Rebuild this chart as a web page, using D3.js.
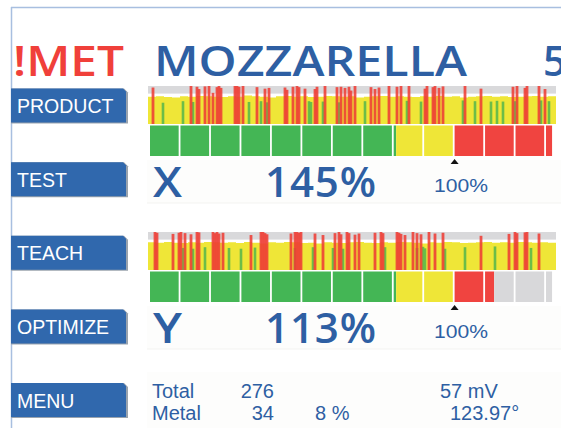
<!DOCTYPE html>
<html><head><meta charset="utf-8">
<script src="https://cdn.jsdelivr.net/npm/d3@7"></script>
<style>body{margin:0;background:#fff}svg{display:block}</style>
</head><body>
<script>
// ---------------- data ----------------
const buttonLabels = ["PRODUCT", "TEST", "TEACH", "OPTIMIZE", "MENU"];
const titleParts = ["!MET", "MOZZARELLA", "5"];
const rowLetters = ["X", "Y"];
const rowPercents = [145, 113];
const refPercent = 100;
const meterZones = [0, 80.8, 100];          // green from 0, yellow from 80.8, red from 100
const meterMax = 132;
const meterStep = 10;

// spike trace 1 (values 0-100, one yellow level per 4 samples)
const yellow1 = [72,73,71,70,73,72,74,73,72,71,73,72,75,73,72,70,73,74,72,73,71,72,74,73,72,73,70,72,73,74,72,73,72,71,73,72,74,72,73,70,72,73,74,72,73,71,72,73,74,72,73];
const red1 = [[2,96],[21,100],[24,98],[25,92],[28,99],[30,100],[32,82],[34,97],[35,100],[36,95],[43,100],[44,100],[45,98],[47,100],[54,97],[58,93],[60,95],[68,96],[69,90],[72,98],[74,100],[75,97],[78,93],[83,92],[84,98],[88,100],[94,97],[96,98],[98,95],[100,98],[101,88],[103,100],[111,97],[113,92],[115,96],[120,100],[124,98],[126,100],[130,100],[138,93],[139,100],[142,97],[143,100],[145,95],[147,99],[158,100],[166,93],[182,98],[184,100],[188,95],[189,100],[195,100],[198,92]];
const green1 = [[7,56],[17,60],[22,58],[50,58],[56,60],[59,57],[80,60],[81,58],[87,59],[95,57],[108,60],[129,61],[136,59],[157,62],[163,60],[171,59],[174,61],[177,59],[183,60],[196,62],[200,60]];

// spike trace 2
const yellow2 = [73,72,74,72,71,73,72,74,73,72,73,71,74,72,70,73,72,74,73,71,72,70,73,72,71,73,74,72,71,73,72,74,73,72,70,73,72,74,73,71,72,73,74,72,73,72,74,73,72,73,72];
const red2 = [[3,100],[4,98],[12,95],[15,98],[16,100],[18,97],[21,94],[24,100],[25,99],[32,100],[33,97],[34,100],[35,96],[37,98],[51,92],[56,100],[57,100],[58,97],[59,94],[71,96],[73,100],[74,100],[75,98],[76,100],[83,96],[87,92],[93,97],[95,100],[96,94],[99,100],[100,97],[103,93],[105,96],[113,98],[116,100],[117,97],[124,100],[125,98],[126,95],[128,92],[132,100],[134,97],[136,94],[140,100],[143,96],[147,98],[166,90],[180,95],[183,100],[184,97],[188,99],[189,100],[195,96]];
const green2 = [[17,58],[22,56],[28,60],[40,58],[46,56],[53,59],[73,58],[82,60],[92,58],[97,56],[118,60],[134,58],[137,61],[138,57],[148,56],[158,60],[173,62],[191,58]];

const statLabels = ["Total", "Metal"];
const statCounts = [276, 34];
const metalShare = "8 %";
const signalText = "57 mV";
const phaseText = "123.97°";

// ---------------- drawing ----------------
const W = 561, H = 428;
const blue = "#2e5fa3", btnBlue = "#3068ad", red = "#f0403a";
const svg = d3.select("body").append("svg").attr("width", W).attr("height", H);

// frame
svg.append("line").attr("x1", 11.5).attr("x2", 11.5).attr("y1", 7).attr("y2", H).attr("stroke", "#a8bfe0").attr("stroke-width", 1.5);
svg.append("line").attr("x1", 11).attr("x2", W).attr("y1", 7.5).attr("y2", 7.5).attr("stroke", "#a8bfe0").attr("stroke-width", 1.5);

// faint panels
[[160, 43], [306, 43], [372, 56]].forEach(([y, h]) => {
  svg.append("rect").attr("x", 147).attr("y", y).attr("width", W - 147).attr("height", h).attr("fill", "#fdfdfc");
});
[203, 349].forEach(y => svg.append("line").attr("x1", 147).attr("x2", W).attr("y1", y).attr("y2", y).attr("stroke", "#f3f3f1"));

// title
const titleFont = "'Open Sans', 'DejaVu Sans', sans-serif";
svg.append("text").attr("x", 13).attr("y", 76).attr("fill", red).attr("font-family", titleFont)
  .attr("font-weight", 600).attr("font-size", 41).attr("textLength", 111).attr("lengthAdjust", "spacingAndGlyphs").text(titleParts[0]);
svg.append("text").attr("x", 154).attr("y", 76).attr("fill", blue).attr("font-family", titleFont)
  .attr("font-weight", 600).attr("font-size", 41).attr("textLength", 313).attr("lengthAdjust", "spacingAndGlyphs").text(titleParts[1]);
svg.append("text").attr("x", 543).attr("y", 76).attr("fill", blue).attr("font-family", titleFont)
  .attr("font-weight", 600).attr("font-size", 41).text(titleParts[2]);

// buttons
const btnY = d3.scaleLinear().domain([0, buttonLabels.length - 1]).range([88.5, 383]);
buttonLabels.forEach((lab, i) => {
  const y = btnY(i), h = 35, x0 = 11, x1 = 128;
  const g = svg.append("g");
  g.append("path").attr("d", `M${x0},${y}H${x1-4}L${x1},${y+4}V${y+h}H${x0}Z`).attr("fill", "#9aa3ad");
  g.append("path").attr("d", `M${x0},${y}H${x1-5}L${x1-2},${y+3}V${y+h-1}H${x0}Z`).attr("fill", btnBlue);
  g.append("text").attr("x", 17).attr("y", y + h / 2 + 7).attr("fill", "#fff")
    .attr("font-family", "'Liberation Sans', Arial, sans-serif").attr("font-size", 19.5).text(lab);
});

// spike traces
const xs = d3.scaleLinear().domain([0, 204]).range([148, 556]);
const traceTops = [86, 232];
const traces = [[yellow1, red1, green1], [yellow2, red2, green2]];
traces.forEach(([yel, reds, greens], r) => {
  const top = traceTops[r];
  const ys = d3.scaleLinear().domain([0, 100]).range([top + 38, top]);
  const g = svg.append("g");
  g.append("rect").attr("x", xs(0)).attr("y", ys(100)).attr("width", xs(204) - xs(0)).attr("height", ys(80) - ys(100)).attr("fill", "#d9d9db");
  const pts = yel.map((v, i) => [i * 4, v]);
  pts.push([204, yel[yel.length - 1]]);
  const area = d3.area().x(d => xs(d[0])).y0(ys(0)).y1(d => ys(d[1])).curve(d3.curveStepAfter);
  g.append("path").attr("d", area(pts)).attr("fill", "#efe637");
  const bw = xs(1) - xs(0);
  g.selectAll(".gs").data(greens).join("rect").attr("x", d => xs(d[0]) - 0.3).attr("width", bw + 0.6)
    .attr("y", d => ys(d[1])).attr("height", d => ys(0) - ys(d[1])).attr("fill", "#5db84a").attr("opacity", 0.9);
  g.selectAll(".rs").data(reds).join("rect").attr("x", d => xs(d[0]) - 0.4).attr("width", bw + 0.8)
    .attr("y", d => ys(d[1])).attr("height", d => ys(0) - ys(d[1])).attr("fill", "#ee3d36").attr("opacity", 0.88);
});

// segmented meters
const ms = d3.scaleLinear().domain([0, refPercent]).range([150, 454.6]);
const meterTops = [125.5, 271.5];
const zoneColors = ["#44b655", "#efe637", "#f04440"];
const segStarts = d3.range(0, meterMax, meterStep);
rowPercents.forEach((val, r) => {
  const g = svg.append("g");
  const top = meterTops[r], h = 30.5;
  segStarts.forEach(s => {
    const e = Math.min(s + meterStep, meterMax);
    const sx0 = ms(s), sx1 = (e === meterMax) ? ms(e) : ms(e) - 1.8;
    const pieces = [];
    meterZones.forEach((z, zi) => {
      const zEnd = zi + 1 < meterZones.length ? meterZones[zi + 1] : Infinity;
      const a = Math.max(s, z), b = Math.min(e, zEnd, val);
      if (b > a) pieces.push([a, b, zoneColors[zi]]);
    });
    if (val < e) pieces.push([Math.max(s, val), e, "#d8d8da"]);
    pieces.forEach(([a, b, c]) => {
      const px0 = Math.max(ms(a), sx0), px1 = Math.min(ms(b), sx1);
      if (px1 > px0) g.append("rect").attr("x", px0).attr("y", top).attr("width", px1 - px0).attr("height", h).attr("fill", c);
    });
  });
  // reference marker
  const mx = ms(refPercent), my = top + h + 3;
  g.append("path").attr("d", `M${mx},${my}L${mx+4},${my+5}L${mx-4},${my+5}Z`).attr("fill", "#111");
  g.append("text").attr("x", 434).attr("y", top + 66).attr("fill", blue)
    .attr("font-family", "'Liberation Sans', Arial, sans-serif").attr("font-size", 18)
    .attr("textLength", 54).attr("lengthAdjust", "spacingAndGlyphs").text(refPercent + "%");
  // big readouts
  const base = top + 71.5;
  g.append("text").attr("x", 153).attr("y", base).attr("fill", blue).attr("font-family", titleFont)
    .attr("font-weight", 600).attr("font-size", 42).attr("textLength", 29).attr("lengthAdjust", "spacingAndGlyphs").text(rowLetters[r]);
  g.append("text").attr("x", 265).attr("y", base).attr("fill", blue).attr("font-family", titleFont)
    .attr("font-weight", 600).attr("font-size", 42).attr("textLength", 111).attr("lengthAdjust", "spacing").text(val + "%");
});

// stats
const statFont = "'Liberation Sans', Arial, sans-serif";
const sg = svg.append("g").attr("fill", blue).attr("font-family", statFont).attr("font-size", 20);
const statY = [398, 420];
statLabels.forEach((l, i) => {
  sg.append("text").attr("x", 152).attr("y", statY[i]).text(l);
  sg.append("text").attr("x", 274).attr("y", statY[i]).attr("text-anchor", "end").text(statCounts[i]);
});
sg.append("text").attr("x", 315).attr("y", statY[1]).text(metalShare);
sg.append("text").attr("x", 440).attr("y", statY[0]).text(signalText);
sg.append("text").attr("x", 450).attr("y", statY[1]).text(phaseText);
</script>
</body></html>
